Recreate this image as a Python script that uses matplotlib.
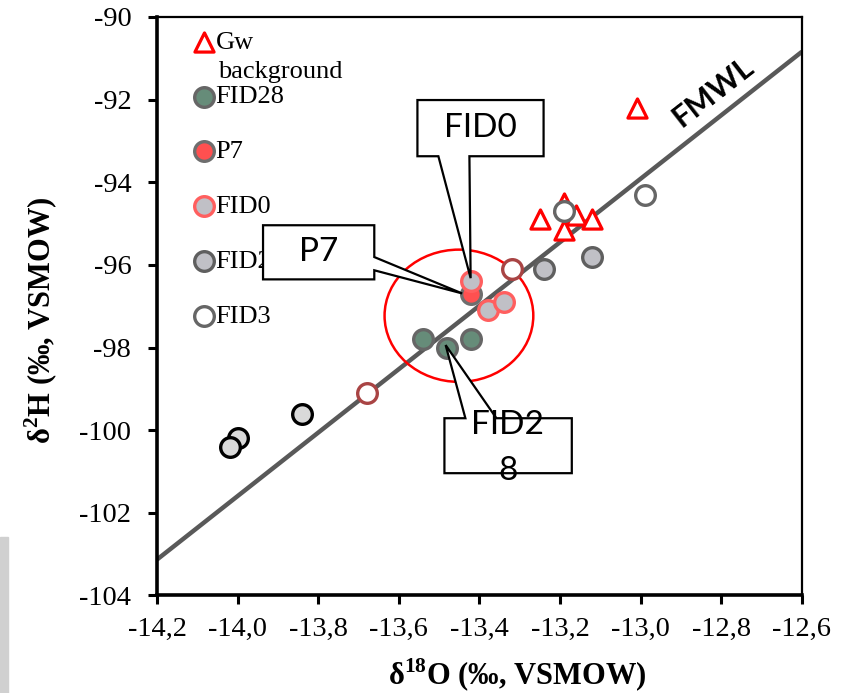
import matplotlib
matplotlib.use('Agg')
import matplotlib.pyplot as plt
from matplotlib.patches import Ellipse, Polygon, Rectangle
from matplotlib.ticker import FuncFormatter, MultipleLocator

plt.rcParams['font.family'] = ['Liberation Serif', 'DejaVu Serif']
plt.rcParams['mathtext.fontset'] = 'custom'
plt.rcParams['mathtext.rm'] = 'Liberation Serif:bold'
plt.rcParams['mathtext.bf'] = 'Liberation Serif:bold'

# data (d18O, d2H)
gw_x = [-13.25, -13.19, -13.16, -13.12, -13.19, -13.01]
gw_y = [-94.9, -94.5, -94.8, -94.9, -95.15, -92.2]
fid28_x = [-13.54, -13.48, -13.42]
fid28_y = [-97.8, -98.0, -97.8]
p7_x = [-13.42]
p7_y = [-96.7]
fid0_x = [-13.42, -13.38, -13.34]
fid0_y = [-96.4, -97.1, -96.9]
fid2_x = [-13.24, -13.12]
fid2_y = [-96.1, -95.8]
fid3_x = [-13.19, -12.99]
fid3_y = [-94.7, -94.3]
other_x = [-13.32, -13.68]
other_y = [-96.1, -99.1]
ref_x = [-13.84, -14.00, -14.02]
ref_y = [-99.6, -100.2, -100.4]

# FMWL end points
fmwl_x = [-14.2, -12.6]
fmwl_y = [-103.13, -90.84]

fig = plt.figure(figsize=(8.59, 6.93), dpi=100)
ax = fig.add_axes([0.1828, 0.1407, 0.7508, 0.8348])

ax.plot(fmwl_x, fmwl_y, color='#595959', lw=3.2, zorder=2, solid_capstyle='butt')

ax.add_patch(Ellipse((-13.451, -97.23), 0.369, 3.2, fill=False, ec='#ff0000', lw=1.8, zorder=2))

s_c = 200
lw_c = 2.4
h_gw = ax.scatter(gw_x, gw_y, marker='^', s=190, facecolors='white', edgecolors='#ff0000',
                  linewidths=2.3, zorder=3, label='Gw')
h28 = ax.scatter(fid28_x, fid28_y, s=s_c, facecolors='#668c79', edgecolors='#666666',
                 linewidths=lw_c, zorder=4, label='FID28')
h0 = ax.scatter(fid0_x, fid0_y, s=s_c, facecolors='#c0c0c6', edgecolors='#ff5f5f',
                linewidths=lw_c, zorder=4, label='FID0')
hp7 = ax.scatter(p7_x, p7_y, s=s_c, facecolors='#ff5050', edgecolors='#6e6e6e',
                 linewidths=lw_c, zorder=3.5, label='P7')
h2 = ax.scatter(fid2_x, fid2_y, s=s_c, facecolors='#c0c0c6', edgecolors='#5f5f5f',
                linewidths=lw_c, zorder=4, label='FID2')
h3 = ax.scatter(fid3_x, fid3_y, s=s_c, facecolors='white', edgecolors='#666666',
                linewidths=lw_c, zorder=4, label='FID3')
ax.scatter(other_x, other_y, s=s_c, facecolors='white', edgecolors='#a94444',
           linewidths=lw_c, zorder=4)
ax.scatter(ref_x, ref_y, s=s_c, facecolors='#d9d9d9', edgecolors='black',
           linewidths=lw_c, zorder=4)

ax.set_xlim(-14.2, -12.6)
ax.set_ylim(-104, -90)
ax.xaxis.set_major_locator(MultipleLocator(0.2))
ax.yaxis.set_major_locator(MultipleLocator(2))
ax.xaxis.set_major_formatter(FuncFormatter(lambda v, p: f'{v:.1f}'.replace('.', ',')))
ax.yaxis.set_major_formatter(FuncFormatter(lambda v, p: f'{v:.0f}'))
ax.tick_params(axis='both', direction='out', length=6.5, width=2.2, labelsize=20.5, colors='black')
ax.tick_params(axis='y', pad=12)
ax.tick_params(axis='x', pad=9)
for side in ['left', 'bottom']:
    ax.spines[side].set_linewidth(2.6)
for side in ['top', 'right']:
    ax.spines[side].set_linewidth(1.6)

ax.set_xlabel(r'δ$^{18}$O (‰, VSMOW)', fontsize=22, fontweight='bold')
ax.set_ylabel(r'δ$^{2}$H (‰, VSMOW)', fontsize=22, fontweight='bold')
ax.xaxis.set_label_coords(0.558, -0.106)
ax.yaxis.set_label_coords(-0.150, 0.476)

leg = ax.legend(handles=[h_gw, h28, hp7, h0, h2, h3], loc='upper left',
                bbox_to_anchor=(0.048, 0.991), frameon=False, fontsize=19,
                handlelength=0.6, handletextpad=0.15, labelspacing=1.19,
                borderpad=0.3, borderaxespad=0)
leg.set_zorder(5)
ax.text(0.0946, 0.905, 'background', transform=ax.transAxes, fontsize=19,
        ha='left', va='center', zorder=5)

ax.text(-12.82, -91.81, 'FMWL', rotation=38, ha='center', va='center',
        fontsize=22, fontweight='bold', family=['Lato', 'DejaVu Sans'], zorder=5)


def callout(box, side, base, tip, label, tx, ty, **kw):
    l, r, b, t = box
    if side == 'bottom':
        verts = [(l, t), (r, t), (r, b), (base[1], b), tip, (base[0], b), (l, b)]
    elif side == 'right':
        verts = [(l, t), (r, t), (r, base[0]), tip, (r, base[1]), (r, b), (l, b)]
    else:
        verts = [(l, t), (base[0], t), tip, (base[1], t), (r, t), (r, b), (l, b)]
    ax.add_patch(Polygon(verts, closed=True, fc='white', ec='black', lw=1.6,
                         zorder=7, joinstyle='miter'))
    ax.text(tx, ty, label, ha='center', va='center', fontsize=24,
            family=['Lato', 'DejaVu Sans'], zorder=8, **kw)


callout((-13.554, -13.241, -93.37, -92.01), 'bottom', (-13.502, -13.425),
        (-13.422, -96.32), 'FID0', -13.397, -92.69)
callout((-13.937, -13.661, -96.35, -95.04), 'right', (-95.81, -96.13),
        (-13.443, -96.69), 'P7', -13.80, -95.69)
callout((-13.487, -13.171, -101.04, -99.71), 'top', (-13.435, -13.358),
        (-13.484, -97.94), 'FID2\n8', -13.330, -100.43, linespacing=1.68)

fig.patches.append(Rectangle((0, 0), 8 / 859, 156 / 693, transform=fig.transFigure,
                             color='#d0d0d0', zorder=0))

fig.savefig('out.png', dpi=100)
